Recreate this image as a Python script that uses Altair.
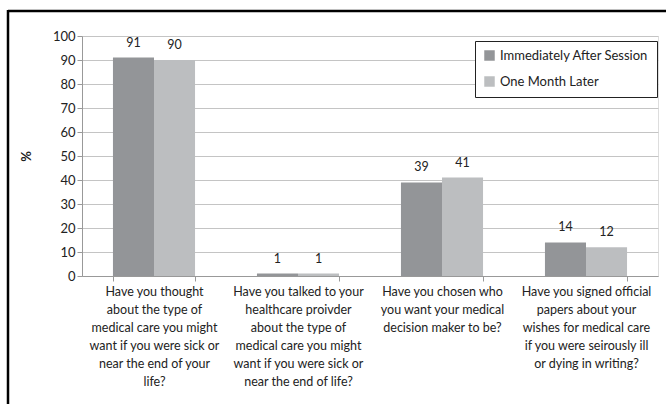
import altair as alt
import pandas as pd

questions = [
    "Have you thought|about the type of|medical care you might|want if you were sick or|near the end of your|life?",
    "Have you talked to your|healthcare proivder|about the type of|medical care you might|want if you were sick or|near the end of life?",
    "Have you chosen who|you want your medical|decision maker to be?",
    "Have you signed official|papers about your|wishes for medical care|if you were seirously ill|or dying in writing?",
]
series = ["Immediately After Session", "One Month Later"]
after_session = [91, 1, 39, 14]
month_later = [90, 1, 41, 12]
y_ticks = list(range(0, 101, 10))
palette = ["#939598", "#bcbec0"]

rows = []
for q, a, m in zip(questions, after_session, month_later):
    rows.append({"question": q, "series": series[0], "pct": a})
    rows.append({"question": q, "series": series[1], "pct": m})
df = pd.DataFrame(rows)

FONT = "Lato"

x_enc = alt.X(
    "question:N",
    sort=questions,
    title=None,
    scale=alt.Scale(paddingInner=0.43, paddingOuter=0.215),
    axis=alt.Axis(
        labelExpr="split(datum.label, '|')",
        labelAngle=0,
        labelLineHeight=18,
        labelFontSize=12.5,
        labelColor="#222222",
        labelPadding=4,
        labelLimit=200,
        tickBand="extent",
        tickSize=5,
        tickColor="#999999",
        domainColor="#999999",
        grid=False,
    ),
)

y_enc = alt.Y(
    "pct:Q",
    scale=alt.Scale(domain=[0, 100], nice=False),
    title="%",
    axis=alt.Axis(
        values=y_ticks,
        labelOverlap=False,
        labelFontSize=13,
        labelColor="#222222",
        tickSize=5,
        tickColor="#999999",
        domainColor="#999999",
        grid=True,
        gridColor="#c4c4c4",
        titleAngle=-90,
        titleX=-49,
        titleY=120,
        titleFontSize=13,
        titleFontWeight="bold",
        titleColor="#222222",
    ),
)

offset_enc = alt.XOffset("series:N", sort=series, scale=alt.Scale(paddingInner=0, paddingOuter=0))

bars = alt.Chart(df).mark_bar().encode(
    x=x_enc,
    xOffset=offset_enc,
    y=y_enc,
    color=alt.Color(
        "series:N",
        sort=series,
        scale=alt.Scale(domain=series, range=palette),
        legend=alt.Legend(
            title=None,
            orient="none",
            legendX=393,
            legendY=5,
            strokeColor="#222222",
            fillColor="white",
            padding=8,
            symbolType="square",
            symbolSize=110,
            symbolStrokeWidth=0,
            labelFontSize=13,
            labelColor="#222222",
            rowPadding=12,
            labelOffset=4,
        ),
    ),
)

labels = alt.Chart(df).mark_text(
    baseline="bottom", dy=-8, fontSize=12.5, color="#222222", font=FONT
).encode(
    x=x_enc,
    xOffset=offset_enc,
    y=y_enc,
    text=alt.Text("pct:Q"),
)

# outer frame: top and left edges
frame_df = pd.DataFrame({"k": [0]})
top_edge = alt.Chart(frame_df).mark_rule(color="#000000", strokeWidth=2.5).encode(
    x=alt.value(-74), x2=alt.value(600), y=alt.value(-25)
)
left_edge = alt.Chart(frame_df).mark_rule(color="#000000", strokeWidth=2.5).encode(
    x=alt.value(-74), y=alt.value(-26), y2=alt.value(380)
)

chart = (
    alt.layer(bars, labels, top_edge, left_edge)
    .properties(
        width=576,
        height=240,
        padding={"left": 82, "top": 36, "right": 8, "bottom": 128},
        autosize=alt.AutoSizeParams(type="none"),
        background="white",
    )
    .configure_view(stroke=None)
    .configure(font=FONT)
)

chart.save("out.html", embed_options={"renderer": "svg", "actions": False})
